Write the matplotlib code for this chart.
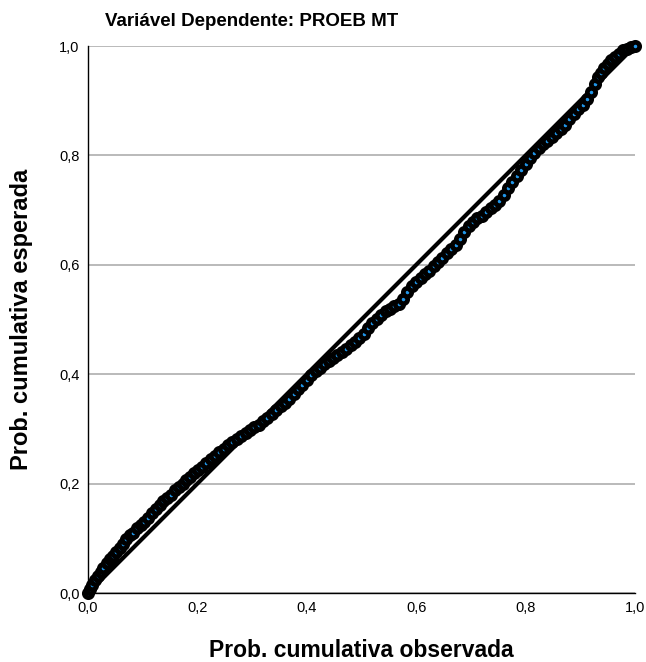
import matplotlib
matplotlib.use('Agg')
import matplotlib.pyplot as plt

plt.rcParams['font.family'] = ['Liberation Sans', 'DejaVu Sans']

obs = [0.000, 0.004, 0.008, 0.013, 0.018, 0.023, 0.028, 0.034, 0.040, 0.046,
       0.052, 0.058, 0.064, 0.070, 0.076, 0.082, 0.089, 0.096, 0.103, 0.110,
       0.117, 0.124, 0.131, 0.138, 0.145, 0.152, 0.159, 0.166, 0.173, 0.180,
       0.187, 0.194, 0.201, 0.208, 0.216, 0.224, 0.232, 0.240, 0.248, 0.256,
       0.264, 0.272, 0.280, 0.288, 0.296, 0.304, 0.312, 0.320, 0.328, 0.336,
       0.344, 0.352, 0.360, 0.368, 0.376, 0.384, 0.392, 0.400, 0.408, 0.416,
       0.424, 0.432, 0.440, 0.448, 0.456, 0.464, 0.472, 0.480, 0.488, 0.496,
       0.504, 0.512, 0.520, 0.528, 0.536, 0.544, 0.552, 0.560, 0.568, 0.576,
       0.584, 0.592, 0.600, 0.608, 0.616, 0.624, 0.632, 0.640, 0.648, 0.656,
       0.664, 0.672, 0.680, 0.688, 0.696, 0.704, 0.712, 0.720, 0.728, 0.736,
       0.744, 0.752, 0.760, 0.768, 0.776, 0.784, 0.792, 0.800, 0.808, 0.816,
       0.824, 0.832, 0.840, 0.848, 0.856, 0.864, 0.872, 0.880, 0.888, 0.896,
       0.904, 0.912, 0.920, 0.926, 0.932, 0.938, 0.944, 0.950, 0.957, 0.964,
       0.971, 0.978, 0.985, 0.992, 1.000]
esp = [0.000, 0.008, 0.015, 0.024, 0.031, 0.038, 0.046, 0.054, 0.062, 0.068,
       0.075, 0.082, 0.090, 0.099, 0.106, 0.110, 0.118, 0.124, 0.130, 0.138,
       0.146, 0.154, 0.161, 0.168, 0.174, 0.180, 0.188, 0.194, 0.200, 0.207,
       0.213, 0.219, 0.224, 0.230, 0.237, 0.245, 0.251, 0.258, 0.264, 0.270,
       0.276, 0.282, 0.287, 0.293, 0.298, 0.303, 0.308, 0.314, 0.320, 0.327,
       0.334, 0.341, 0.347, 0.355, 0.364, 0.373, 0.381, 0.390, 0.398, 0.405,
       0.412, 0.419, 0.425, 0.430, 0.436, 0.441, 0.447, 0.453, 0.459, 0.466,
       0.474, 0.484, 0.493, 0.501, 0.509, 0.515, 0.520, 0.524, 0.529, 0.538,
       0.551, 0.562, 0.569, 0.576, 0.583, 0.589, 0.597, 0.605, 0.613, 0.621,
       0.629, 0.637, 0.647, 0.660, 0.671, 0.678, 0.685, 0.690, 0.697, 0.703,
       0.710, 0.717, 0.727, 0.740, 0.752, 0.763, 0.774, 0.785, 0.795, 0.804,
       0.813, 0.820, 0.827, 0.834, 0.841, 0.848, 0.856, 0.866, 0.876, 0.885,
       0.893, 0.903, 0.916, 0.930, 0.944, 0.951, 0.959, 0.967, 0.974, 0.980,
       0.986, 0.992, 0.995, 0.998, 1.000]

ticks = [0.0, 0.2, 0.4, 0.6, 0.8, 1.0]
tick_labels = ['0,0', '0,2', '0,4', '0,6', '0,8', '1,0']

fig = plt.figure(figsize=(6.46, 6.62), dpi=100)
ax = fig.add_axes([0.1362, 0.1042, 0.8468, 0.8263])

# reference line
ax.plot([0, 1], [0, 1], color='black', lw=3, zorder=2)
ax.plot(obs, esp, 'o', ms=6, mfc='#2196e8', mec='black', mew=3.4, zorder=3, clip_on=False)

ax.set_xlim(0, 1)
ax.set_ylim(0, 1)
ax.set_xticks(ticks)
ax.set_xticklabels(tick_labels)
ax.set_yticks(ticks)
ax.set_yticklabels(tick_labels)
ax.tick_params(length=0, labelsize=10.5, pad=6)
ax.yaxis.grid(True, color='#b4b4b4', lw=1.3)
ax.set_axisbelow(True)
for s in ['top', 'right']:
    ax.spines[s].set_visible(False)
ax.spines['left'].set_linewidth(1)
ax.spines['bottom'].set_linewidth(1)

fig.text(0.39, 0.968, 'Variável Dependente: PROEB MT', fontsize=13.5, fontweight='bold',
         ha='center', va='center')
ax.set_xlabel('Prob. cumulativa observada', fontsize=16.5, fontweight='bold', labelpad=17)
ax.set_ylabel('Prob. cumulativa esperada', fontsize=17, fontweight='bold', labelpad=19)

fig.savefig('out.png', dpi=100)
